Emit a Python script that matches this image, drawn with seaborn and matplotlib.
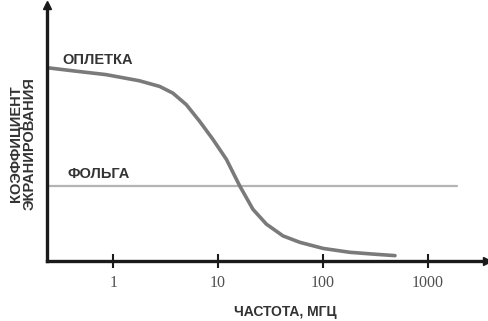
import matplotlib
matplotlib.use("Agg")
import matplotlib.pyplot as plt
import pandas as pd
import seaborn as sns

# Braid ("ОПЛЕТКА") shielding curve
braid_freq = [0.244, 0.408, 0.851, 1.77, 2.76, 3.69, 4.96, 6.65, 8.92, 12.0,
              16.1, 21.5, 28.9, 41.7, 60.3, 101, 181, 303, 489]
braid_coef = [0.754, 0.743, 0.728, 0.704, 0.682, 0.656, 0.611, 0.546, 0.475, 0.397,
              0.293, 0.202, 0.144, 0.098, 0.073, 0.049, 0.034, 0.027, 0.021]

# Foil ("ФОЛЬГА") is flat
foil_freq = [0.244, 1900]
foil_coef = [0.292, 0.292]

tick_values = [1, 10, 100, 1000]
tick_labels = ["1", "10", "100", "1000"]

sns.set_style("white")
plt.rcParams["font.family"] = ["Liberation Sans", "DejaVu Sans"]

braid_df = pd.DataFrame({"freq": braid_freq, "coef": braid_coef})
foil_df = pd.DataFrame({"freq": foil_freq, "coef": foil_coef})

fig = plt.figure(figsize=(4.88, 3.21), dpi=100)
ax = fig.add_axes([47 / 488, 60 / 321, 440 / 488, 256 / 321])
ax.set_xscale("log")

sns.lineplot(data=foil_df, x="freq", y="coef", ax=ax, color="#b4b4b4", linewidth=1.6)
sns.lineplot(data=braid_df, x="freq", y="coef", ax=ax, color="#7a7a7a", linewidth=2.6,
             solid_joinstyle="round", solid_capstyle="round")

ax.set_xlim(0.232, 3700)
ax.set_ylim(0, 1)

for side in ["top", "right"]:
    ax.spines[side].set_visible(False)
for side in ["left", "bottom"]:
    ax.spines[side].set_linewidth(2.4)
    ax.spines[side].set_color("#1a1a1a")

# arrow heads on the axes
ax.plot(1, 0, ">", color="#1a1a1a", markersize=6, transform=ax.transAxes, clip_on=False)
ax.plot(0, 1, "^", color="#1a1a1a", markersize=6, transform=ax.transAxes, clip_on=False)

ax.set_xticks(tick_values)
ax.set_xticklabels(tick_labels, fontfamily="Liberation Serif", fontsize=11.5, color="#505050")
ax.xaxis.set_minor_locator(matplotlib.ticker.NullLocator())
ax.tick_params(axis="x", bottom=True, direction="inout", length=10, width=1.5,
               color="#1a1a1a", pad=5)
ax.set_yticks([])

ax.set_xlabel("")
ax.set_ylabel("")
fig.text(285 / 488, 1 - 312 / 321, "ЧАСТОТА, МГЦ", ha="center", va="center",
         fontsize=10, fontweight="bold", color="#333333")
fig.text(16 / 488, 1 - 144 / 321, "КОЭФФИЦИЕНТ", rotation=90, ha="center", va="center",
         fontsize=10.5, fontweight="bold", color="#333333")
fig.text(30 / 488, 1 - 144 / 321, "ЭКРАНИРОВАНИЯ", rotation=90, ha="center", va="center",
         fontsize=10.5, fontweight="bold", color="#333333")

fig.text(62 / 488, 1 - 60 / 321, "ОПЛЕТКА", fontsize=10.5, fontweight="bold",
         color="#333333", va="center")
fig.text(67 / 488, 1 - 174 / 321, "ФОЛЬГА", fontsize=10.5, fontweight="bold",
         color="#333333", va="center")

fig.savefig("out.png", dpi=100)
